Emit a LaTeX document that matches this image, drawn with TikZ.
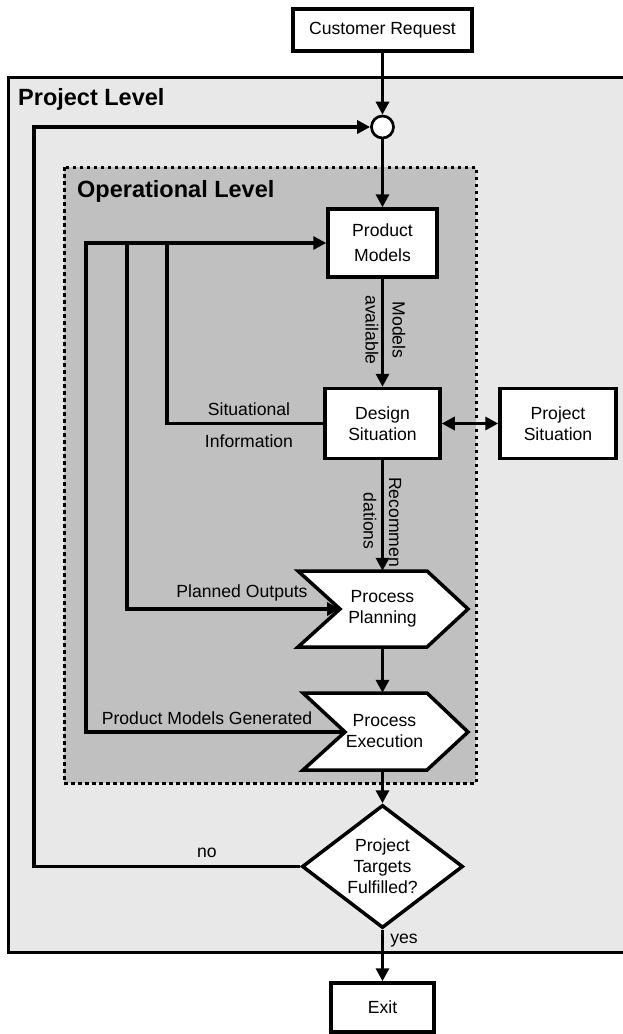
\documentclass[tikz,border=0pt]{standalone}
\usepackage{fontspec}
\setmainfont{Liberation Sans}
\usetikzlibrary{arrows.meta,shapes.geometric}
\definecolor{projgray}{RGB}{232,232,232}
\definecolor{opgray}{RGB}{192,192,192}
\begin{document}
\begin{tikzpicture}[x=1pt,y=-1pt,
  txt/.style={font=\fontsize{17.6pt}{21pt}\selectfont, align=center, inner sep=0pt},
  box/.style={txt, draw, fill=white, line width=3.5pt, rectangle},
  flow/.style={line width=3.8pt},
  tip/.style={-{Triangle[length=13pt,width=13pt]}},
  biTip/.style={{Triangle[length=13pt,width=13pt]}-{Triangle[length=13pt,width=13pt]}},
  levelTitle/.style={font=\fontsize{23.5pt}{28pt}\selectfont\bfseries, anchor=base west, inner sep=0pt},
  stage/.style={draw, fill=white, line width=3.5pt, line join=miter}
]
\useasboundingbox (0,0) rectangle (622,1034);

% level frames
\draw[line width=3pt, fill=projgray] (8,77.5) rectangle (640,952);
\draw[line width=3pt, fill=opgray, dash pattern=on 3.5pt off 3.5pt] (64,167) rectangle (476,783);
\node[levelTitle] (projTitle) at (18,105) {Project Level};
\node[levelTitle] (opTitle) at (77,197) {Operational Level};

% process stages (chevrons)
\draw[stage] (298,571) -- (427,571) -- (468,609) -- (427,647) -- (298,647) -- (340,609) -- cycle;
\draw[stage] (303,693) -- (427,693) -- (468,732) -- (427,770) -- (303,770) -- (345,732) -- cycle;
\node[txt, minimum height=76pt] (plan) at (382.5,609) {Process\\Planning};
\node[txt, minimum height=77pt] (exec) at (382.5,731.5) {\hspace*{4pt}Process\\\hspace*{4pt}Execution};
\coordinate (plan-in) at (340,609);
\coordinate (exec-in) at (345,732);

% boxes
\node[box, minimum width=179pt, minimum height=42pt] (cust) at (382.5,30) {Customer Request};
\node[draw, fill=white, circle, line width=2.7pt, minimum size=22pt, inner sep=0pt] (merge) at (382.5,127) {};
\node[box, minimum width=109pt, minimum height=68pt, font=\fontsize{17.6pt}{25pt}\selectfont] (models) at (382.5,243) {Product\\Models};
\node[box, minimum width=115pt, minimum height=70pt] (design) at (382.5,423.5) {Design\\Situation};
\node[box, minimum width=116pt, minimum height=70pt] (projsit) at (558,423.5) {Project\\Situation};
\node[txt, draw, fill=white, diamond, line width=3.5pt, minimum width=161pt, minimum height=123pt, aspect=1.3] (check) at (382.5,866.5) {Project\\Targets\\Fulfilled?};
\node[box, minimum width=103pt, minimum height=49pt] (exit) at (382.5,1007.5) {Exit};

% main flow
\draw[flow,tip] (cust) -- (merge);
\draw[flow,tip] (merge) -- (models);
\draw[flow,tip] (models) -- (design);
\draw[flow,tip] (design) -- (plan);
\draw[flow,tip] (plan) -- (exec);
\draw[flow,tip] (exec) -- (check);
\draw[flow,tip] (check) -- (exit);
\draw[flow,biTip] (design) -- (projsit);

% project loop
\coordinate (loop) at (34,866.5);
\draw[flow,tip] (check.west) -- (loop) |- (merge.west);

% operational feedback lines
\coordinate (fbA) at (86,243);
\coordinate (fbB) at (127,243);
\coordinate (fbC) at (167,243);
\draw[flow,tip] (exec-in) -| (fbA) -- (models.west);
\draw[flow,tip] (fbB) |- (plan-in);
\draw[flow] (fbC) |- (design.west);

% labels
\node[txt, rotate=-90] (lblModels) at (399,330) {Models};
\node[txt, rotate=-90] (lblAvail) at (372,330) {available};
\node[txt, rotate=-90] (lblRec) at (395,522) {Recommen};
\node[txt, rotate=-90] (lblDat) at (370,521) {dations};
\node[txt] (lblSit) at (249,409) {Situational};
\node[txt] (lblInfo) at (249,441) {Information};
\node[txt] (lblPlanned) at (242,593) {Planned Outputs};
\node[txt] (lblGen) at (207,718) {Product Models Generated};
\node[txt] (lblNo) at (207,853) {no};
\node[txt] (lblYes) at (404,941) {yes};
\end{tikzpicture}
\end{document}
